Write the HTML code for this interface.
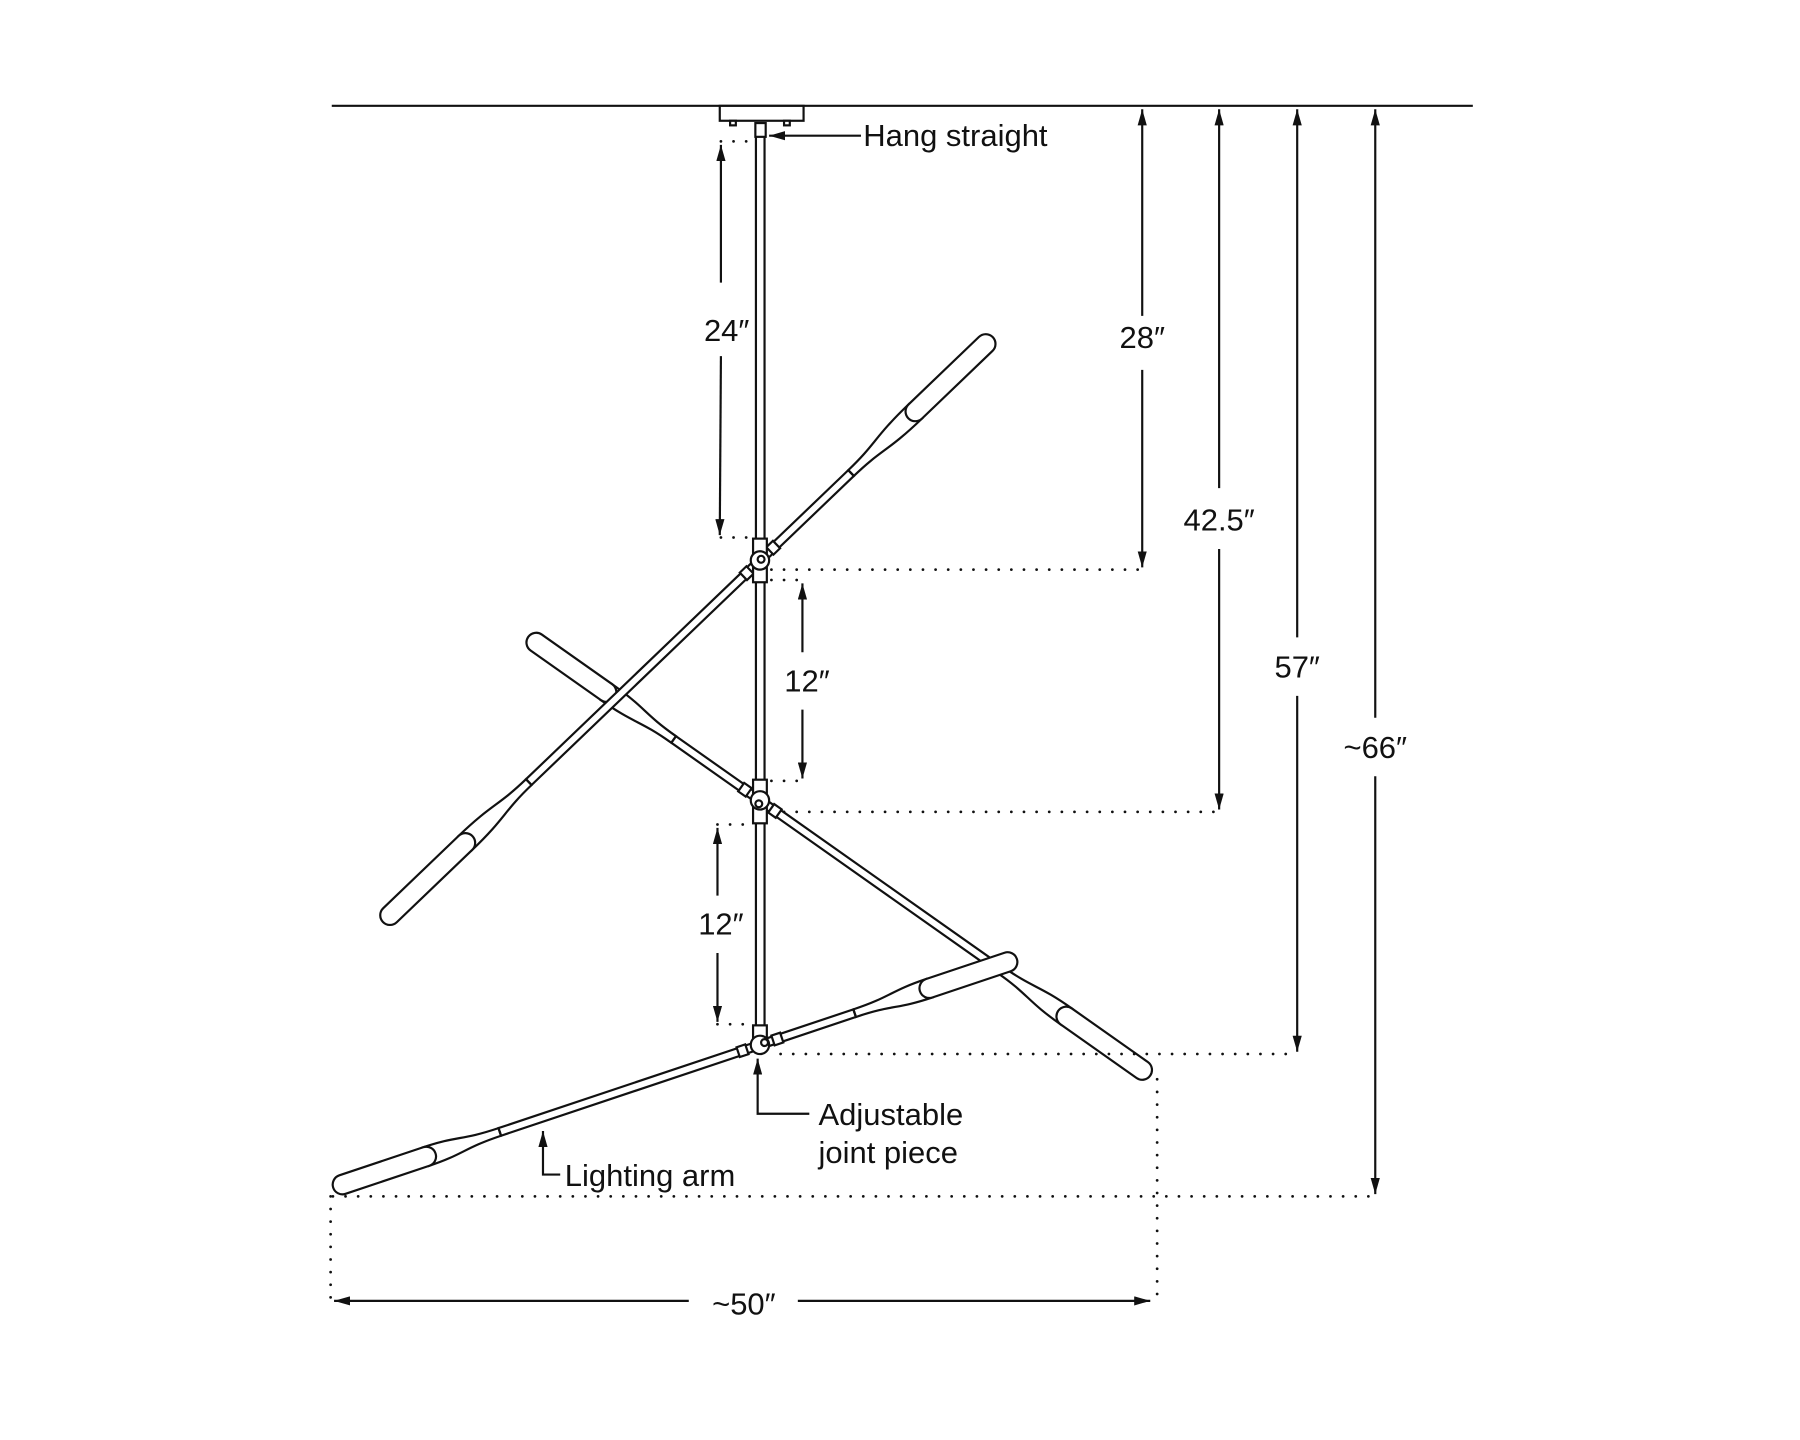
<!DOCTYPE html>
<html><head><meta charset="utf-8"><style>
html,body{margin:0;padding:0;background:#fff;}
svg{display:block;}
text{font-family:"Liberation Sans","DejaVu Sans",sans-serif;font-size:27px;fill:#111;}
</style></head><body>
<svg width="1800" height="1440" viewBox="0 0 1568 1254" xmlns="http://www.w3.org/2000/svg">
<defs>
<marker id="ah" viewBox="0 0 14 8" refX="14" refY="4" markerWidth="14" markerHeight="8" markerUnits="userSpaceOnUse" orient="auto-start-reverse"><path d="M0,0 L14,4 L0,8 Z" fill="#111"/></marker>
</defs>
<g stroke="#111" stroke-width="1.9" fill="none">
<!-- ceiling -->
<line x1="289" y1="92" x2="1283" y2="92"/>
<rect x="627" y="92" width="73" height="13" fill="#fff"/>
<rect x="636" y="105" width="5" height="4" fill="#fff"/>
<rect x="683" y="105" width="5" height="4" fill="#fff"/>
<rect x="658" y="107" width="9" height="12" fill="#fff"/>
<!-- stem -->
<line x1="658.5" y1="119" x2="658.5" y2="905"/>
<line x1="666" y1="119" x2="666" y2="905"/>

<!-- Arm 2 (behind) -->
<g transform="translate(662,697) rotate(35.2)" fill="#fff">
 <rect x="-164" y="-3.5" width="491" height="7"/>
 <g><path d="M255,-3.5 C290,-3.5 290,-8.5 327,-8.5 L327,8.5 C290,8.5 290,3.5 255,3.5 Z"/><rect x="318" y="-8.5" width="98" height="17" rx="8.5"/><line x1="255" y1="-3.5" x2="255" y2="3.5"/></g>
 <g transform="scale(-1,1)"><path d="M92,-3.5 C127,-3.5 127,-8.5 164,-8.5 L164,8.5 C127,8.5 127,3.5 92,3.5 Z"/><rect x="155" y="-8.5" width="92" height="17" rx="8.5"/><line x1="92" y1="-3.5" x2="92" y2="3.5"/></g>
 <rect x="12" y="-4.5" width="8" height="9"/><rect x="-20" y="-4.5" width="8" height="9"/>
</g>
<!-- Arm 1 -->
<g transform="translate(662,488) rotate(-43.8)" fill="#fff">
 <rect x="-279" y="-3.5" width="389" height="7"/>
 <g><path d="M110,-3.5 C145,-3.5 145,-8.5 188,-8.5 L188,8.5 C145,8.5 145,3.5 110,3.5 Z"/><rect x="179" y="-8.5" width="102" height="17" rx="8.5"/><line x1="110" y1="-3.5" x2="110" y2="3.5"/></g>
 <g transform="scale(-1,1)"><path d="M279,-3.5 C314,-3.5 314,-8.5 356,-8.5 L356,8.5 C314,8.5 314,3.5 279,3.5 Z"/><rect x="347" y="-8.5" width="108" height="17" rx="8.5"/><line x1="279" y1="-3.5" x2="279" y2="3.5"/></g>
 <rect x="12" y="-4.5" width="8" height="9"/><rect x="-20" y="-4.5" width="8" height="9"/>
</g>
<!-- Arm 3 -->
<g transform="translate(662,910) rotate(-18.5)" fill="#fff">
 <rect x="-239" y="-3.5" width="326" height="7"/>
 <g><path d="M87,-3.5 C122,-3.5 122,-8.5 156,-8.5 L156,8.5 C122,8.5 122,3.5 87,3.5 Z"/><rect x="147" y="-8.5" width="89" height="17" rx="8.5"/><line x1="87" y1="-3.5" x2="87" y2="3.5"/></g>
 <g transform="scale(-1,1)"><path d="M239,-3.5 C274,-3.5 274,-8.5 307,-8.5 L307,8.5 C274,8.5 274,3.5 239,3.5 Z"/><rect x="298" y="-8.5" width="94" height="17" rx="8.5"/><line x1="239" y1="-3.5" x2="239" y2="3.5"/></g>
 <rect x="12" y="-4.5" width="8" height="9"/><rect x="-20" y="-4.5" width="8" height="9"/>
</g>
<!-- joints -->
<g fill="#fff">
 <rect x="656" y="469" width="12" height="38"/><circle cx="662" cy="488" r="8"/><circle cx="663" cy="487" r="3"/>
 <rect x="656" y="679" width="12" height="38"/><circle cx="662" cy="697" r="8"/><circle cx="661" cy="700" r="3"/>
 <rect x="656" y="893" width="12" height="17"/><circle cx="662" cy="910" r="8"/><circle cx="666" cy="908" r="3"/>
</g>
</g>

<!-- dimension lines -->
<g stroke="#111" stroke-width="1.9" fill="none">
 <line x1="628" y1="126" x2="628" y2="246" marker-start="url(#ah)"/>
 <line x1="628" y1="310" x2="627" y2="466" marker-end="url(#ah)"/>
 <line x1="995" y1="95" x2="995" y2="275" marker-start="url(#ah)"/>
 <line x1="995" y1="322" x2="995" y2="494" marker-end="url(#ah)"/>
 <line x1="1062" y1="95" x2="1062" y2="425" marker-start="url(#ah)"/>
 <line x1="1062" y1="478" x2="1062" y2="705" marker-end="url(#ah)"/>
 <line x1="1130" y1="95" x2="1130" y2="555" marker-start="url(#ah)"/>
 <line x1="1130" y1="606" x2="1130" y2="916" marker-end="url(#ah)"/>
 <line x1="1198" y1="95" x2="1198" y2="625" marker-start="url(#ah)"/>
 <line x1="1198" y1="676" x2="1198" y2="1040" marker-end="url(#ah)"/>
 <line x1="699" y1="508" x2="699" y2="568" marker-start="url(#ah)"/>
 <line x1="699" y1="618" x2="699" y2="678" marker-end="url(#ah)"/>
 <line x1="625" y1="721" x2="625" y2="780" marker-start="url(#ah)"/>
 <line x1="625" y1="830" x2="625" y2="890" marker-end="url(#ah)"/>
 <line x1="291" y1="1133" x2="600" y2="1133" marker-start="url(#ah)"/>
 <line x1="695" y1="1133" x2="1002" y2="1133" marker-end="url(#ah)"/>
 <!-- callouts -->
 <line x1="750" y1="118" x2="670" y2="118" marker-end="url(#ah)"/>
 <polyline points="705,970 660,970 660,922" marker-end="url(#ah)"/>
 <polyline points="488,1023 473,1023 473,985" marker-end="url(#ah)"/>
</g>
<!-- dotted lines -->
<g stroke="#111" stroke-width="2.4" stroke-linecap="round" stroke-dasharray="0 11" fill="none">
 <line x1="628" y1="123" x2="658" y2="123"/>
 <line x1="628" y1="468" x2="656" y2="468"/>
 <line x1="672" y1="496" x2="995" y2="496"/>
 <line x1="672" y1="505" x2="699" y2="505"/>
 <line x1="672" y1="680" x2="699" y2="680"/>
 <line x1="683" y1="707" x2="1062" y2="707"/>
 <line x1="625" y1="718" x2="655" y2="718"/>
 <line x1="625" y1="892" x2="655" y2="892"/>
 <line x1="680" y1="918" x2="1130" y2="918"/>
 <line x1="290" y1="1042" x2="1198" y2="1042"/>
 <line x1="288" y1="1042" x2="288" y2="1133"/>
 <line x1="1008" y1="940" x2="1008" y2="1133"/>
</g>
<!-- labels -->
<text x="752" y="127">Hang straight</text>
<text x="633" y="297" text-anchor="middle">24″</text>
<text x="995" y="303" text-anchor="middle">28″</text>
<text x="1062" y="462" text-anchor="middle">42.5″</text>
<text x="1130" y="590" text-anchor="middle">57″</text>
<text x="1198" y="660" text-anchor="middle">~66″</text>
<text x="703" y="602" text-anchor="middle">12″</text>
<text x="628" y="814" text-anchor="middle">12″</text>
<text x="648" y="1145" text-anchor="middle">~50″</text>
<text x="713" y="980">Adjustable</text>
<text x="713" y="1013">joint piece</text>
<text x="492" y="1033">Lighting arm</text>
</svg>
</body></html>
